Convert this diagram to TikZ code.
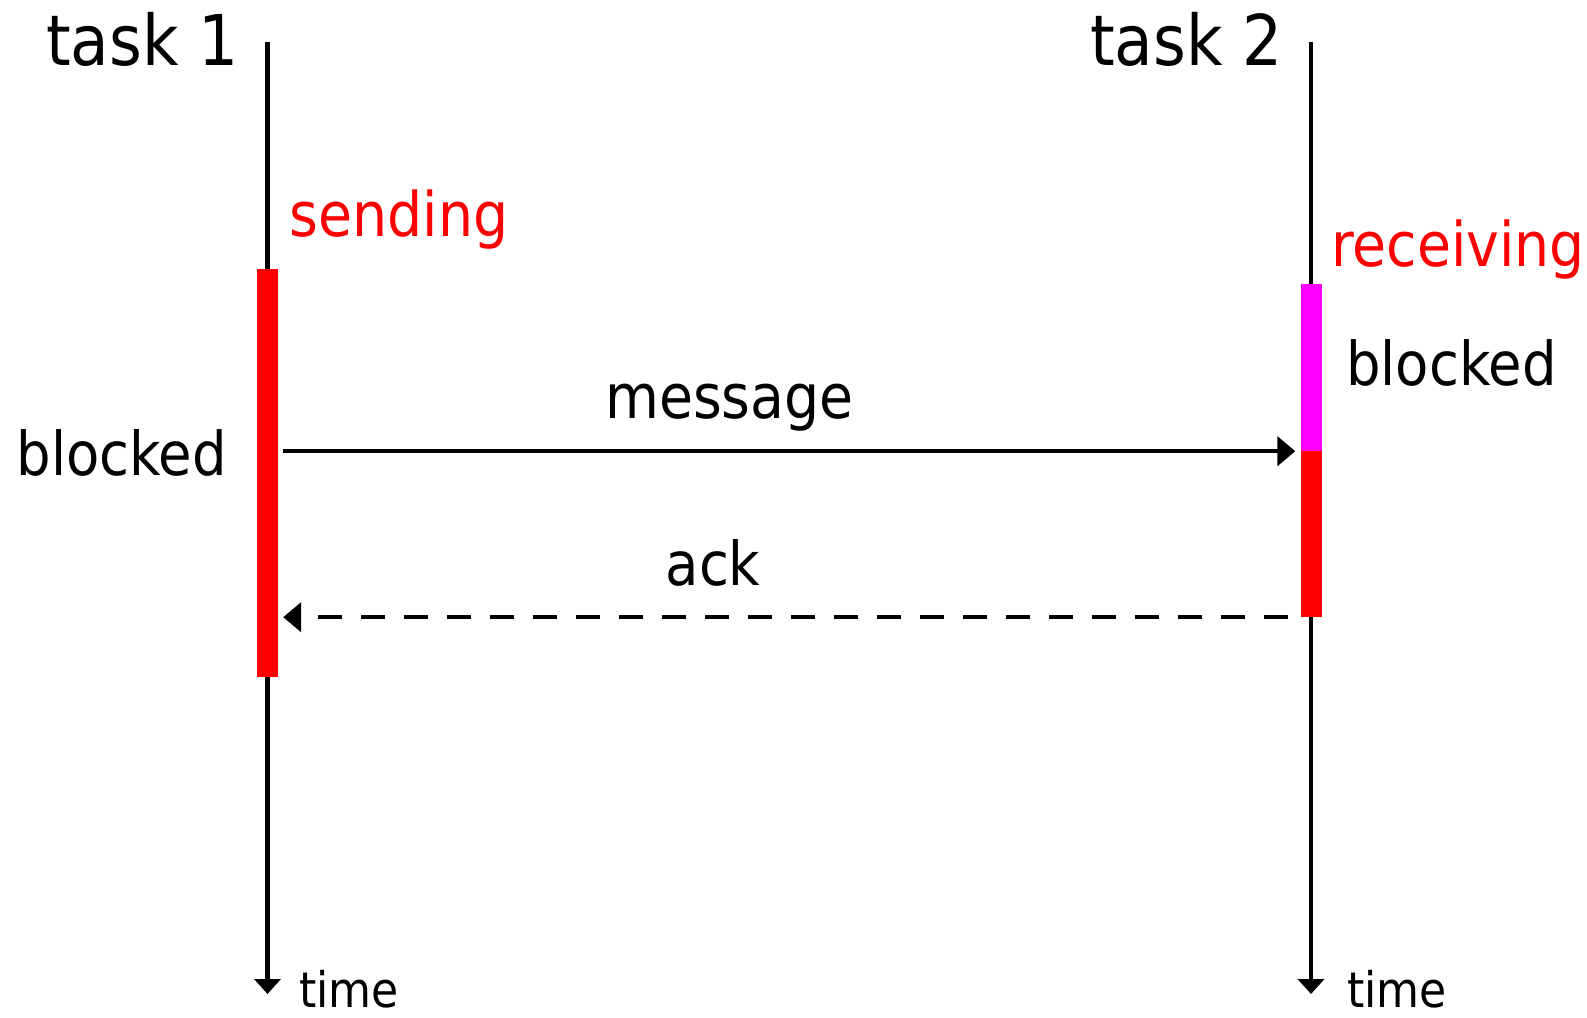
\documentclass[tikz,border=0pt]{standalone}
\usepackage{fontspec}
\setmainfont{DejaVu Sans Condensed}
\usetikzlibrary{arrows.meta}

\definecolor{sendred}{RGB}{255,0,0}
\definecolor{waitpink}{RGB}{255,0,255}

\tikzset{
  lifeline/.style={line width=4.5pt, -{Triangle[length=15pt,width=26pt]}},
  bar/.style={draw=none, inner sep=0pt, minimum width=21pt},
  msg/.style={line width=4.5pt, -{Triangle[length=18pt,width=29pt]}},
  reply/.style={msg, dash pattern=on 24pt off 19pt},
  lbl/.style={inner sep=0pt, anchor=base west, font=\fontsize{61.5}{72}\selectfont},
  title/.style={lbl, font=\fontsize{70}{82}\selectfont},
  state/.style={lbl, font=\fontsize{60.5}{72}\selectfont},
  axis/.style={lbl, text depth=0pt, font=\fontsize{49}{58}\selectfont},
  evt/.style={lbl, text=sendred}
}

\begin{document}
\begin{tikzpicture}[x=1pt, y=-1pt]
  \useasboundingbox (0,0) rectangle (1587,1017);

  % lifelines of the two tasks
  \coordinate (t1top) at (267.5,42);
  \coordinate (t1end) at (267.5,994);
  \coordinate (t2top) at (1311,42);
  \coordinate (t2end) at (1311,994);
  \draw[lifeline] (t1top) -- (t1end);
  \draw[lifeline] (t2top) -- (t2end);

  % blocked intervals
  \node[bar, fill=sendred, minimum height=408pt] (sendbar) at (267.5,473) {};
  \node[bar, fill=waitpink, minimum height=167pt] (waitbar) at (1311,367.5) {};
  \node[bar, fill=sendred, minimum height=166pt] (readbar) at (1311,534) {};

  % message and acknowledgement
  \draw[msg] ([xshift=5pt]sendbar.east |- waitbar.south) -- ([xshift=-5pt]waitbar.south west);
  \draw[reply] ([xshift=-12pt]readbar.south west) -- ([xshift=5pt]sendbar.east |- readbar.south);

  % labels
  \node[title] (task1) at (46,65) {task 1};
  \node[title] (task2) at (1090,65) {task 2};
  \node[evt] (sending) at (289.5,236.7) {sending};
  \node[evt] (receiving) at (1331,266.7) {receiving};
  \node[state] (blocked1) at (16.5,475) {blocked};
  \node[state] (blocked2) at (1346,385) {blocked};
  \node[lbl] (message) at (605,418) {message};
  \node[state] (ack) at (665.5,585) {ack};
  \node[axis] (time1) at (299,1007) {time};
  \node[axis] (time2) at (1347,1007) {time};
\end{tikzpicture}
\end{document}
